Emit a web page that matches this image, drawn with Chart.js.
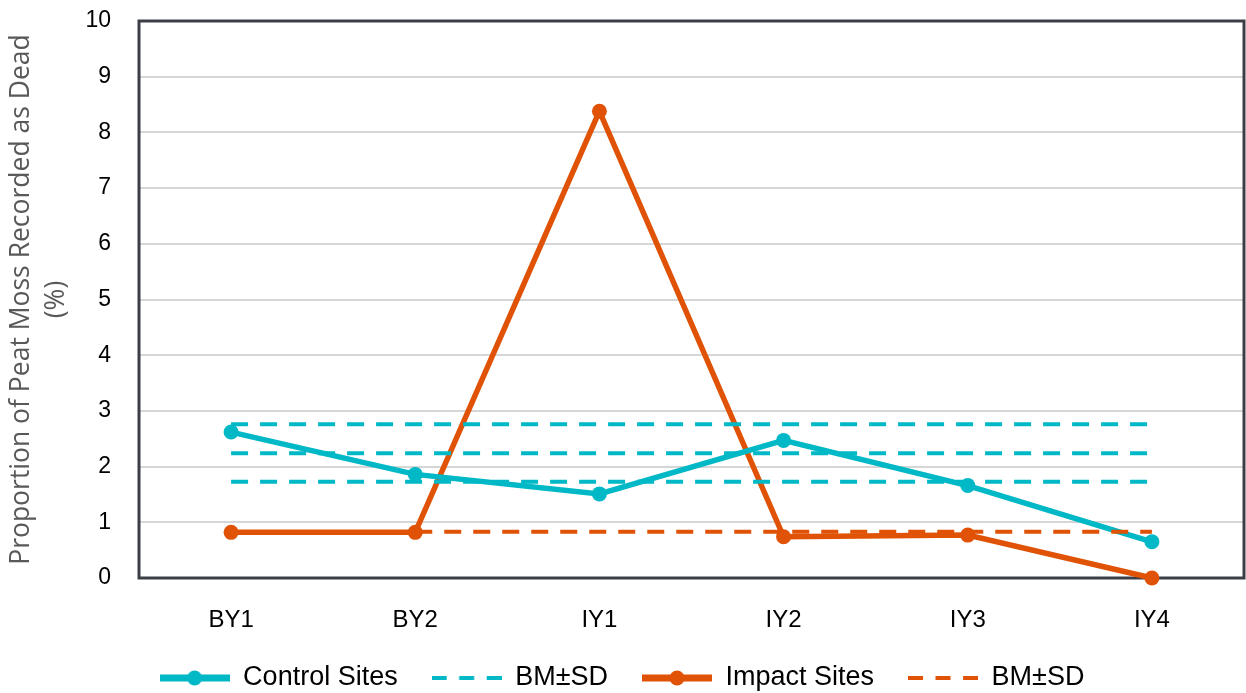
<!DOCTYPE html>
<html>
<head>
<meta charset="utf-8">
<script src="https://cdn.jsdelivr.net/npm/chart.js@4.4.1/dist/chart.umd.min.js"></script>
<style>
  html, body { margin: 0; padding: 0; background: #ffffff; }
  #wrap { width: 1246px; height: 693px; }
</style>
</head>
<body>
<div id="wrap"><canvas id="chart" width="1246" height="693"></canvas></div>
<script>
// Survey periods: baseline years and impact years
const categories = ['BY1', 'BY2', 'IY1', 'IY2', 'IY3', 'IY4'];

// Proportion of peat moss recorded as dead (%)
const controlSites = [2.62, 1.86, 1.51, 2.47, 1.66, 0.65];
const impactSites  = [0.82, 0.82, 8.38, 0.74, 0.77, 0.00];

// Baseline mean ± SD reference levels
const controlBM      = 2.24;
const controlBMUpper = 2.76;
const controlBMLower = 1.73;
const impactBM       = 0.83;

// Y axis ticks
const yTicks = [0, 1, 2, 3, 4, 5, 6, 7, 8, 9, 10];

const CYAN = '#00b8c6';
const ORANGE = '#e05206';

// Flat reference line across the periods from startIndex onward
function levelLine(level, startIndex) {
  return categories.map((_, i) => (i >= startIndex ? level : null));
}

// Legend glyphs: solid line with marker, or dashed line
function legendGlyph(color, dashed) {
  const c = document.createElement('canvas');
  c.width = 70; c.height = 18;
  const g = c.getContext('2d');
  g.strokeStyle = color;
  g.lineWidth = dashed ? 4 : 7;
  if (dashed) g.setLineDash([15, 12.5]);
  g.beginPath(); g.moveTo(0, 9); g.lineTo(70, 9); g.stroke();
  if (!dashed) {
    g.fillStyle = color;
    g.beginPath(); g.arc(35, 9, 7.5, 0, Math.PI * 2); g.fill();
  }
  return c;
}

const dashedStyle = (color) => ({
  borderColor: color,
  backgroundColor: color,
  borderWidth: 4,
  borderDash: [17, 12],
  pointRadius: 0,
  pointHoverRadius: 0,
  fill: false,
  spanGaps: false
});

const solidStyle = (color) => ({
  borderColor: color,
  backgroundColor: color,
  borderWidth: 5.5,
  pointRadius: 7.5,
  pointHoverRadius: 7.5,
  pointBorderWidth: 0,
  pointBackgroundColor: color,
  fill: false
});

const datasets = [
  Object.assign({ label: 'BM±SD', data: levelLine(controlBMUpper, 0), order: 1, glyph: legendGlyph(CYAN, true), inLegend: true, legendRank: 1 }, dashedStyle(CYAN)),
  Object.assign({ label: 'BM±SD', data: levelLine(controlBM, 0), order: 1, inLegend: false }, dashedStyle(CYAN)),
  Object.assign({ label: 'BM±SD', data: levelLine(controlBMLower, 0), order: 1, inLegend: false }, dashedStyle(CYAN)),
  Object.assign({ label: 'BM±SD', data: levelLine(impactBM, 1), order: 1, glyph: legendGlyph(ORANGE, true), inLegend: true, legendRank: 3 }, dashedStyle(ORANGE)),
  Object.assign({ label: 'Control Sites', data: controlSites, order: 2, glyph: legendGlyph(CYAN, false), inLegend: true, legendRank: 0 }, solidStyle(CYAN)),
  Object.assign({ label: 'Impact Sites', data: impactSites, order: 2, glyph: legendGlyph(ORANGE, false), inLegend: true, legendRank: 2 }, solidStyle(ORANGE))
];

// Dark frame around the plotting area, under the lines
const plotFrame = {
  id: 'plotFrame',
  beforeDatasetsDraw(chart) {
    const { ctx, chartArea: a } = chart;
    ctx.save();
    ctx.strokeStyle = '#3b3e46';
    ctx.lineWidth = 3;
    ctx.strokeRect(a.left, a.top, a.right - a.left, a.bottom - a.top);
    ctx.restore();
  }
};

// Place the legend row at the bottom of the canvas
const LEGEND_CENTER_Y = 678;
const legendPlacement = {
  id: 'legendPlacement',
  afterLayout(chart) {
    const lg = chart.legend;
    if (!lg) return;
    const lo = lg.options.labels;
    const size = lo.font.size;
    lg.top = LEGEND_CENTER_Y - (lo.padding + size / 2);
    lg.bottom = chart.height;
    lg.height = lg.bottom - lg.top;
  }
};

const LEFT_AXIS_WIDTH = 139;
const PLOT_BOTTOM = 578;

function noScalePadding(scale) {
  scale.paddingTop = 0;
  scale.paddingBottom = 0;
  scale.paddingLeft = 0;
  scale.paddingRight = 0;
}

new Chart(document.getElementById('chart'), {
  type: 'line',
  data: { labels: categories, datasets },
  plugins: [plotFrame, legendPlacement],
  options: {
    responsive: false,
    devicePixelRatio: 1,
    animation: false,
    clip: false,
    layout: { autoPadding: false, padding: { top: 21, right: 2, left: 0, bottom: 0 } },
    plugins: {
      tooltip: { enabled: false },
      legend: {
        position: 'bottom',
        maxHeight: 24,
        labels: {
          usePointStyle: true,
          pointStyleWidth: 70,
          padding: 34,
          color: '#000000',
          font: { family: '"Liberation Sans", Arial, sans-serif', size: 27 },
          generateLabels(chart) {
            return chart.data.datasets
              .map((ds, i) => ({ ds, i }))
              .filter(o => o.ds.inLegend)
              .sort((a, b) => a.ds.legendRank - b.ds.legendRank)
              .map(o => ({
                text: o.ds.label,
                fillStyle: o.ds.borderColor,
                strokeStyle: o.ds.borderColor,
                lineWidth: 0,
                pointStyle: o.ds.glyph,
                hidden: false,
                datasetIndex: o.i,
                fontColor: '#000000'
              }));
          }
        }
      }
    },
    scales: {
      x: {
        offset: true,
        grid: { display: false, drawTicks: false },
        border: { display: false },
        ticks: {
          color: '#000000',
          padding: 28,
          maxRotation: 0,
          autoSkip: false,
          font: { family: '"Liberation Sans", Arial, sans-serif', size: 24 }
        },
        afterFit(scale) {
          noScalePadding(scale);
          const lg = scale.chart.legend;
          const legendH = lg ? lg.height : 0;
          scale.height = Math.max(1, scale.chart.height - legendH - PLOT_BOTTOM);
        }
      },
      y: {
        min: 0,
        max: 10,
        afterBuildTicks(scale) { scale.ticks = yTicks.map(v => ({ value: v })); },
        grid: { color: '#d6d6d6', lineWidth: 2, drawTicks: false },
        border: { display: false },
        ticks: {
          color: '#000000',
          padding: 28,
          font: { family: '"Liberation Sans", Arial, sans-serif', size: 23 }
        },
        title: {
          display: true,
          text: ['Proportion of Peat Moss Recorded as Dead', '(%)'],
          color: '#595959',
          padding: { top: 4, bottom: 0 },
          font: { family: '"Open Sans", sans-serif', size: 26.5, lineHeight: 1.33 }
        },
        afterFit(scale) {
          noScalePadding(scale);
          scale.width = LEFT_AXIS_WIDTH;
        }
      }
    }
  }
});
</script>
</body>
</html>
